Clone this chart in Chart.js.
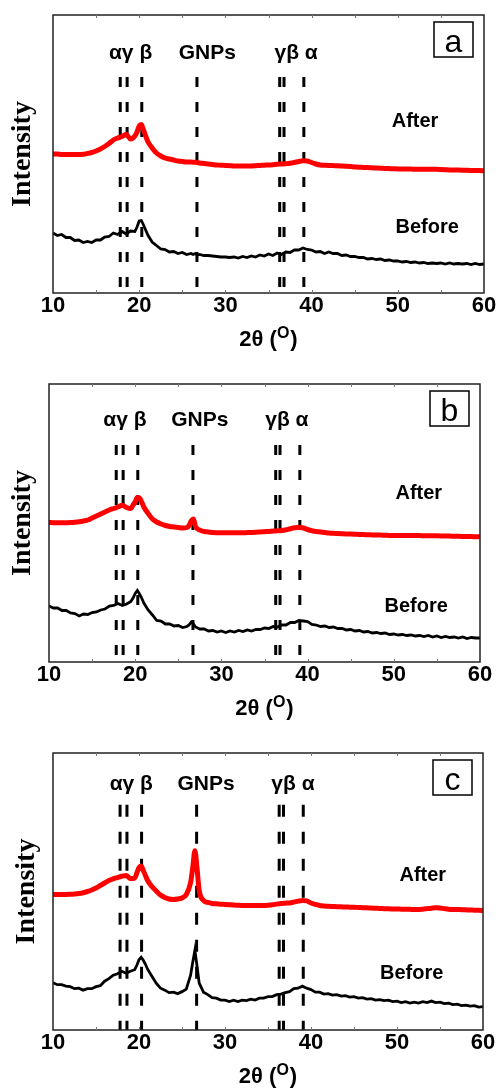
<!DOCTYPE html>
<html>
<head>
<meta charset="utf-8">
<script src="https://cdn.jsdelivr.net/npm/chart.js@4.4.1/dist/chart.umd.min.js"></script>
<style>
  body { margin: 0; background: #fff; }
  .panel { position: absolute; left: 0; width: 501px; }
</style>
</head>
<body>
<div class="panel" style="top:0"><canvas id="xrd-a" width="501" height="362"></canvas></div>
<div class="panel" style="top:362px"><canvas id="xrd-b" width="501" height="363"></canvas></div>
<div class="panel" style="top:725px"><canvas id="xrd-c" width="501" height="363"></canvas></div>
<script>
// 2θ positions (deg), denser around the sharp peaks
const twoTheta = [
  10, 10.5, 11, 11.5, 12, 12.5, 13, 13.5, 14, 14.5,
  15, 15.5, 16, 16.5, 17, 17.5, 18, 18.5, 19, 19.5,
  19.75, 20, 20.25, 20.5, 20.75, 21, 21.5, 22, 22.5, 23,
  23.5, 24, 24.5, 25, 25.5, 26, 26.25, 26.5, 26.75, 27,
  27.5, 28, 28.5, 29, 29.5, 30, 30.5, 31, 31.5, 32,
  32.5, 33, 33.5, 34, 34.5, 35, 35.5, 36, 36.5, 37,
  37.5, 38, 38.5, 39, 39.5, 40, 40.5, 41, 41.5, 42,
  42.5, 43, 43.5, 44, 44.5, 45, 45.5, 46, 46.5, 47,
  47.5, 48, 48.5, 49, 49.5, 50, 50.5, 51, 51.5, 52,
  52.5, 53, 53.5, 54, 54.5, 55, 55.5, 56, 56.5, 57,
  57.5, 58, 58.5, 59, 59.5, 60
];

// intensities (arb. units, curves offset vertically)
const aAfter = [
  139, 139, 138.5, 138.5, 138.5, 138.5, 138.5, 138.7, 139.5, 140.5,
  142, 144, 146.5, 149.5, 153, 155, 156.5, 158.5, 154, 157,
  161, 167, 168.5, 163, 157, 151.5, 145, 140, 137, 135,
  134, 133, 132, 131.5, 131, 131, 130.8, 130.7, 130.5, 130,
  129.5, 129, 128.5, 128, 127.8, 127.5, 127.3, 127, 127, 127,
  127, 127, 127.3, 127.5, 127.8, 128, 128.3, 128.7, 129, 129.3,
  129.7, 130.5, 131.5, 132.3, 132, 130.5, 129, 128, 127.7, 127.5,
  127.4, 127.3, 127, 126.7, 126.4, 126.1, 125.8, 125.6, 125.4, 125.2,
  125, 124.8, 124.6, 124.4, 124.2, 124.1, 124, 123.9, 123.9, 123.8,
  123.8, 123.7, 123.7, 123.7, 123.7, 123.5, 123.3, 123.1, 123, 122.9,
  122.8, 122.7, 122.6, 122.5, 122.4, 122.3
];
const aBefore = [
  60, 57.5, 58.5, 55.5, 55.5, 52.5, 53, 50.5, 51.5, 50.5,
  53, 53, 56, 56.5, 60, 58.5, 61.5, 59, 62, 61.5,
  66, 72, 72.5, 68, 63, 58, 51, 47.5, 44, 43.5,
  41, 41.5, 39.5, 40.5, 38.5, 39.5, 38.5, 39.5, 38, 38.5,
  37.5, 37.5, 37, 36.5, 36, 36, 35.5, 36, 35, 36.5,
  35.5, 37, 36, 38, 37, 39, 37.5, 40, 38.5, 41,
  40.5, 43, 43, 45, 43.5, 43, 41, 41.5, 39.5, 41,
  39.5, 39.5, 37.5, 38, 36.5, 36.5, 35.5, 35.5, 34, 34.5,
  33.5, 34, 32.5, 33, 32, 32, 31, 31.5, 30.5, 31,
  30, 30.5, 29.5, 30, 29.5, 30, 29, 30, 29, 29.5,
  29, 29.5, 28.5, 29.5, 28.5, 29
];
const bAfter = [
  139.5, 139.3, 139.2, 139.2, 139.3, 139.4, 139.7, 140.2, 141, 142,
  144, 146, 148, 150, 152, 153.5, 155, 156.8, 154.5, 153.5,
  157, 160.3, 164.5, 164, 160, 155, 148.5, 143, 140, 138,
  136.5, 135.5, 135, 134.5, 134, 134.5, 136.5, 141, 143, 135.5,
  131.8, 130.5, 130, 129.5, 129.3, 129.2, 129.2, 129.2, 129.3, 129.3,
  129.3, 129.4, 129.5, 129.7, 130, 130.3, 130.6, 131, 131.2, 131.5,
  132.2, 133.3, 134.3, 134.7, 134, 132.5, 131.3, 130.5, 130, 129.5,
  129, 128.7, 128.5, 128.3, 128.1, 127.9, 127.7, 127.5, 127.4, 127.2,
  127.1, 127, 126.9, 126.8, 126.6, 126.5, 126.4, 126.4, 126.4, 126.4,
  126.4, 126.4, 126.3, 126.3, 126.3, 126.2, 126.1, 126, 125.9, 125.8,
  125.7, 125.6, 125.5, 125.4, 125.3, 125.2
];
const bBefore = [
  56, 54, 54, 51.5, 51.5, 49, 48.5, 46, 48, 47.5,
  49.5, 50, 52, 53, 56, 56.5, 58.5, 56.5, 58, 60.5,
  64, 68.5, 71.5, 68, 64, 59, 52, 47, 41.5, 41,
  38, 38, 36, 36.5, 34.5, 35.5, 37, 40, 38, 35,
  33, 33, 31, 31.5, 30, 31, 29.5, 31, 30, 31.5,
  30.5, 32, 31, 32.5, 32.5, 34, 33.5, 35.5, 35, 37,
  37, 39.5, 39.5, 41.5, 41, 40.5, 37.5, 37, 35.5, 36,
  34.5, 35, 33.5, 33.5, 32, 32.5, 31, 31.5, 30, 30.5,
  29, 29.5, 28.5, 29, 27.5, 28, 27, 27.5, 26.5, 27,
  26, 26.5, 25.5, 26.5, 25, 26, 24.5, 25.5, 24.5, 25,
  24, 25, 23.5, 24.5, 24, 24
];
const cAfter = [
  136, 136, 136, 136, 136.2, 136.5, 137, 137.8, 139, 140.5,
  142.5, 145, 147.5, 150, 151.7, 153, 154.3, 155, 152, 152.5,
  157.5, 163, 164.5, 160, 155, 150, 144, 139.5, 135.5, 133,
  131.5, 131, 131.5, 132.5, 136, 148, 163, 180, 162, 140,
  130, 128, 127, 126.7, 126.3, 126, 125.7, 125.4, 125.2, 125,
  125, 125, 125, 125, 125, 125.2, 125.6, 126.3, 127, 127.3,
  127.5, 128.3, 129.3, 130, 129.5, 127.5, 126, 125, 124.5, 124.2,
  124, 123.8, 123.6, 123.4, 123.3, 123.2, 123, 122.8, 122.6, 122.4,
  122.2, 122, 121.8, 121.6, 121.5, 121.4, 121.3, 121.2, 121.1, 121,
  121, 121.3, 121.8, 122.3, 122.7, 122.5, 121.8, 121.2, 121, 121,
  120.8, 120.6, 120.4, 120.3, 120.1, 120
];
const cBefore = [
  47.5, 45.5, 45.5, 44, 43.5, 41.5, 42, 40, 41.5, 41.5,
  43.5, 44.5, 49, 51.5, 55, 56.5, 59, 57, 59, 60.5,
  65, 70.5, 73, 70, 66, 61, 54, 47, 42, 40,
  37.5, 38, 36.5, 38.5, 41, 55, 68, 80, 64, 47,
  38, 35.5, 32.5, 32, 30, 30, 28.5, 30, 28.5, 30,
  29.5, 31, 30, 32, 32, 33.5, 33.5, 35.5, 36, 37.5,
  38.5, 41.5, 42, 44, 42, 40.5, 38, 38, 36, 36.5,
  35, 35.5, 34, 34.5, 33, 33.5, 32, 32.5, 31, 31.5,
  30, 30.5, 29.5, 30, 28.5, 29, 27.5, 28.5, 27, 28,
  27, 28.5, 27.5, 29, 27.5, 28, 26.5, 27, 25.5, 26,
  24.5, 25, 24, 24.5, 23, 23.5
];

// reference reflections: α γ β | GNPs | γ β α
const refLines = [17.8, 18.6, 20.3, 26.7, 36.3, 36.8, 39.1];
const refLabels = ['αγ β', 'GNPs', 'γβ α'];
const seriesNames = ['After', 'Before'];

const decor = {
  id: 'decor',
  afterDraw(chart, args, o) {
    const { ctx, chartArea: a, scales: { x, y } } = chart;
    ctx.save();
    // frame
    ctx.strokeStyle = '#222';
    ctx.lineWidth = 1.5;
    ctx.strokeRect(a.left, a.top, a.right - a.left, a.bottom - a.top);
    // small inner ticks every 5
    ctx.strokeStyle = '#777';
    ctx.lineWidth = 1;
    for (let v = 15; v < 60; v += 5) {
      const px = Math.round(x.getPixelForValue(v)) + 0.5;
      ctx.beginPath();
      ctx.moveTo(px, a.bottom); ctx.lineTo(px, a.bottom - 3);
      ctx.moveTo(px, a.top); ctx.lineTo(px, a.top + 3);
      ctx.stroke();
    }
    ctx.fillStyle = '#000';
    ctx.textAlign = 'center';
    ctx.textBaseline = 'middle';
    // phase labels
    ctx.font = 'bold 21px "Liberation Sans", Arial, sans-serif';
    refLabels.forEach((t, i) => ctx.fillText(t, x.getPixelForValue(o.labelX[i]), y.getPixelForValue(o.labelY)));
    // series names
    ctx.font = 'bold 20px "Liberation Sans", Arial, sans-serif';
    ctx.fillText(seriesNames[0], x.getPixelForValue(o.after[0]), y.getPixelForValue(o.after[1]));
    ctx.fillText(seriesNames[1], x.getPixelForValue(o.before[0]), y.getPixelForValue(o.before[1]));
    // panel letter in box
    const bx = a.right - 50, by = a.top + 7;
    ctx.strokeStyle = '#000';
    ctx.lineWidth = 1.5;
    ctx.strokeRect(bx, by, 39, 35);
    ctx.font = '32px "Liberation Sans", Arial, sans-serif';
    ctx.textBaseline = 'alphabetic';
    ctx.fillText(o.letter, bx + 19.5, by + 30);
    // x title: 2θ (°)
    const cx = (a.left + a.right) / 2, base = a.bottom + 53;
    const big = 'bold 22px "Liberation Sans", Arial, sans-serif';
    const small = 'bold 16px "Liberation Sans", Arial, sans-serif';
    ctx.font = big;
    const w1 = ctx.measureText('2θ (').width, w3 = ctx.measureText(')').width;
    ctx.font = small;
    const w2 = ctx.measureText('O').width + 1;
    let sx = cx - (w1 + w2 + w3) / 2;
    ctx.textAlign = 'left';
    ctx.font = big;
    ctx.fillText('2θ (', sx, base);
    ctx.font = small;
    ctx.fillText('O', sx + w1, base - 8);
    ctx.font = big;
    ctx.fillText(')', sx + w1 + w2, base);
    // y title
    ctx.translate(o.yTitleX, (a.top + a.bottom) / 2);
    ctx.rotate(-Math.PI / 2);
    ctx.textAlign = 'center';
    ctx.textBaseline = 'middle';
    ctx.font = 'bold 28px "Liberation Serif", "Times New Roman", serif';
    ctx.fillText('Intensity', 0, 0);
    ctx.restore();
  }
};

function makePanel(id, after, before, cfg) {
  const refSets = refLines.map(v => ({
    data: [{ x: v, y: cfg.dashTop }, { x: v, y: 0 }],
    borderColor: '#000',
    borderWidth: 3,
    borderDash: cfg.dash,
    pointRadius: 0
  }));
  new Chart(document.getElementById(id), {
    type: 'line',
    data: {
      datasets: [
        { label: 'After', data: twoTheta.map((t, i) => ({ x: t, y: after[i] })),
          borderColor: '#ff0000', borderWidth: 5, pointRadius: 0, cubicInterpolationMode: 'monotone' },
        { label: 'Before', data: twoTheta.map((t, i) => ({ x: t, y: before[i] })),
          borderColor: '#000', borderWidth: 2.8, pointRadius: 0, tension: 0 },
        ...refSets
      ]
    },
    options: {
      responsive: false,
      animation: false,
      devicePixelRatio: 1,
      layout: { padding: cfg.pad },
      plugins: {
        legend: { display: false },
        tooltip: { enabled: false },
        decor: cfg.decor
      },
      scales: {
        x: {
          type: 'linear', min: 10, max: 60,
          ticks: { stepSize: 10, padding: 0, color: '#000',
                   font: { family: '"Liberation Sans", Arial, sans-serif', size: 22, weight: 'bold' } },
          grid: { display: false, drawTicks: false },
          border: { display: false },
          afterFit: s => { s.height = cfg.axisH; }
        },
        y: { display: false, min: 0, max: 278 }
      }
    },
    plugins: [decor]
  });
}

makePanel('xrd-a', aAfter, aBefore, {
  pad: { left: 53, right: 17, top: 15, bottom: 0 }, axisH: 69, dashTop: 216, dash: [10, 15],
  decor: { letter: 'a', labelX: [19.0, 27.9, 38.2], labelY: 240, after: [52.0, 172], before: [53.4, 66], yTitleX: 23 }
});
makePanel('xrd-b', bAfter, bBefore, {
  pad: { left: 49, right: 21, top: 22, bottom: 0 }, axisH: 63, dashTop: 217, dash: [10, 15],
  decor: { letter: 'b', labelX: [18.8, 27.5, 37.6], labelY: 242, after: [52.9, 169], before: [52.6, 56], yTitleX: 23 }
});
makePanel('xrd-c', cAfter, cBefore, {
  pad: { left: 53, right: 18, top: 28, bottom: 0 }, axisH: 58, dashTop: 226, dash: [12, 15],
  decor: { letter: 'c', labelX: [19.1, 27.8, 37.9], labelY: 247, after: [53.0, 155], before: [51.7, 57], yTitleX: 27 }
});
</script>
</body>
</html>
